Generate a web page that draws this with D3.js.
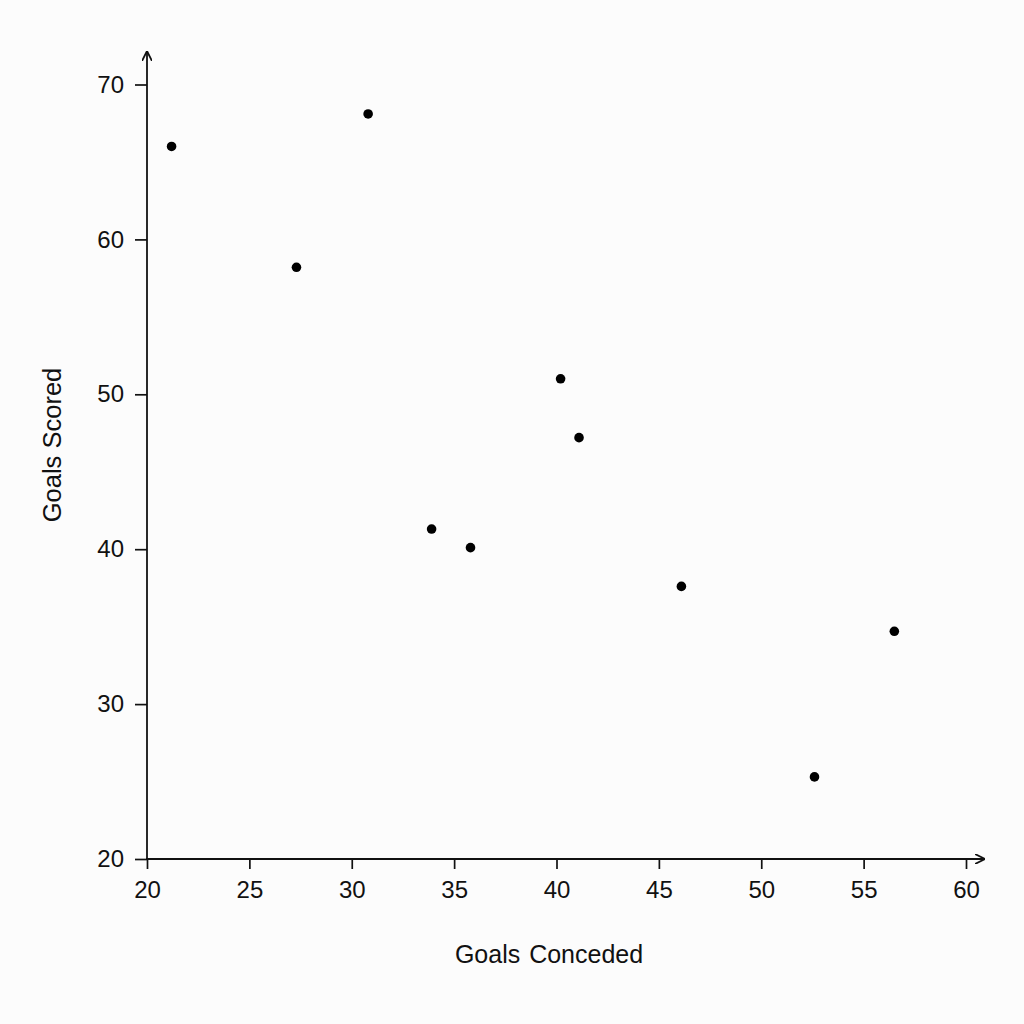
<!DOCTYPE html>
<html>
<head>
<meta charset="utf-8">
<script src="https://cdn.jsdelivr.net/npm/d3@7"></script>
<style>
  html, body { margin: 0; padding: 0; background: #fcfcfc; }
  svg { display: block; font-family: "Liberation Sans", Arial, sans-serif; }
</style>
</head>
<body>
<script>
// data
var goalsConceded = [21.2, 27.3, 30.8, 33.9, 35.8, 40.2, 41.1, 46.1, 52.6, 56.5];
var goalsScored   = [66.0, 58.2, 68.1, 41.3, 40.1, 51.0, 47.2, 37.6, 25.3, 34.7];
var xTicks = [20, 25, 30, 35, 40, 45, 50, 55, 60];
var yTicks = [20, 30, 40, 50, 60, 70];

(function() {
  var width = 1024, height = 1024;

  var svg = d3.select('body').append('svg')
    .attr('width', width)
    .attr('height', height);

  var x = d3.scaleLinear().domain([20, 60]).range([147, 966]);
  var y = d3.scaleLinear().domain([20, 70]).range([859, 84.5]);

  svg.append('defs').append('marker')
    .attr('id', 'arrow')
    .attr('viewBox', '0 0 10 10')
    .attr('refX', 10).attr('refY', 5)
    .attr('markerWidth', 10).attr('markerHeight', 10)
    .attr('markerUnits', 'userSpaceOnUse')
    .attr('orient', 'auto')
    .append('path')
    .attr('d', 'M0,0 L10,5 L0,10')
    .attr('fill', 'none')
    .attr('stroke', '#111')
    .attr('stroke-width', 1.8);

  // x axis
  var xAxis = svg.append('g')
    .attr('transform', 'translate(0,' + y(20) + ')')
    .call(d3.axisBottom(x).tickValues(xTicks).tickSizeOuter(0).tickSize(10).tickPadding(12));
  xAxis.select('.domain').remove();
  xAxis.append('line')
    .attr('x1', x(20) - 1).attr('x2', 985)
    .attr('stroke', '#111').attr('stroke-width', 1.8)
    .attr('marker-end', 'url(#arrow)');

  // y axis
  var yAxis = svg.append('g')
    .attr('transform', 'translate(' + x(20) + ',0)')
    .call(d3.axisLeft(y).tickValues(yTicks).tickSizeOuter(0).tickSize(12).tickPadding(11));
  yAxis.select('.domain').remove();
  yAxis.append('line')
    .attr('y1', y(20) + 1).attr('y2', 51)
    .attr('stroke', '#111').attr('stroke-width', 1.8)
    .attr('marker-end', 'url(#arrow)');

  svg.selectAll('.tick line').attr('stroke', '#111').attr('stroke-width', 1.7);
  svg.selectAll('.tick text')
    .attr('fill', '#111')
    .style('font-size', '24px')
    .style('font-family', '"Liberation Sans", Arial, sans-serif');

  // points
  svg.append('g').selectAll('circle')
    .data(goalsConceded)
    .join('circle')
    .attr('cx', function(d) { return x(d); })
    .attr('cy', function(d, i) { return y(goalsScored[i]); })
    .attr('r', 4.8)
    .attr('fill', '#000');

  // axis titles
  svg.append('text')
    .attr('x', 549).attr('y', 954)
    .attr('dy', '0.35em')
    .attr('text-anchor', 'middle')
    .attr('fill', '#111')
    .style('font-size', '25px')
    .style('word-spacing', '2px')
    .text('Goals Conceded');

  svg.append('text')
    .attr('transform', 'translate(52,445) rotate(-90)')
    .attr('dy', '0.35em')
    .attr('text-anchor', 'middle')
    .attr('fill', '#111')
    .style('font-size', '25.5px')
    .text('Goals Scored');
}());
</script>
</body>
</html>
